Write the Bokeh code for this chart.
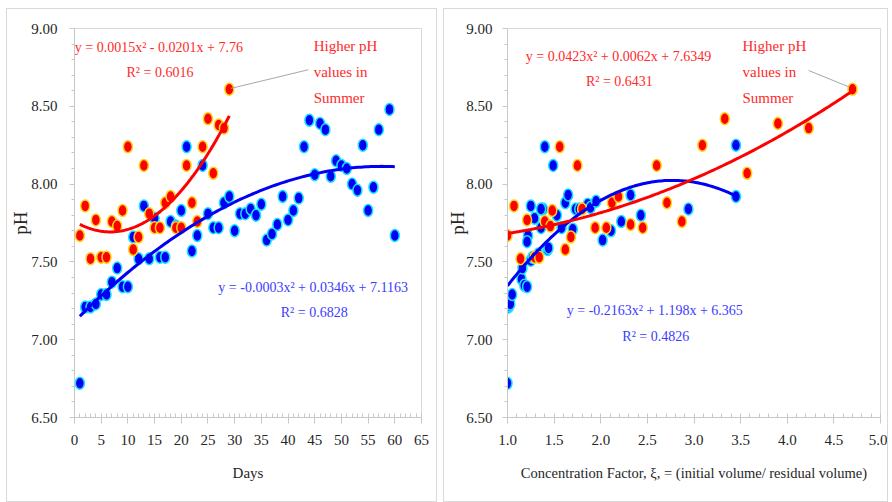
import numpy as np
from bokeh.plotting import figure
from bokeh.layouts import row
from bokeh.models import Label, FixedTicker, NumeralTickFormatter
from bokeh.embed import file_html
from bokeh.resources import INLINE

# ---- pH versus days ----
red_days = list(range(1, 30))
red_ph_days = [7.67, 7.86, 7.52, 7.77, 7.53, 7.53, 7.76, 7.73, 7.83, 8.24,
               7.58, 7.66, 8.12, 7.81, 7.72, 7.72, 7.88, 7.92, 7.72, 7.72,
               8.12, 7.88, 7.76, 8.24, 8.42, 8.07, 8.38, 8.36, 8.61]

blue_days = list(range(1, 58)) + [59, 60]
blue_ph_days = [6.72, 7.21, 7.21, 7.23, 7.29, 7.29, 7.37, 7.46, 7.34, 7.34,
                7.66, 7.52, 7.86, 7.52, 7.78, 7.53, 7.53, 7.76, 7.73, 7.83,
                8.24, 7.57, 7.67, 8.12, 7.81, 7.72, 7.72, 7.88, 7.92, 7.70,
                7.81, 7.81, 7.84, 7.80, 7.87, 7.64, 7.68, 7.74, 7.92, 7.77,
                7.83, 7.91, 8.24, 8.41, 8.06, 8.39, 8.35, 8.05, 8.15, 8.12,
                8.10, 8.00, 7.96, 8.25, 7.83, 7.98, 8.35, 8.48, 7.67]

# ---- pH versus concentration factor ----
red_cf = [1.00, 1.07, 1.14, 1.21, 1.29, 1.34, 1.40, 1.46, 1.48, 1.56,
          1.62, 1.68, 1.75, 1.80, 1.94, 2.06, 2.12, 2.19, 2.32, 2.45,
          2.60, 2.71, 2.87, 3.09, 3.33, 3.57, 3.90, 4.23, 4.70]
red_ph_cf = [7.67, 7.86, 7.52, 7.77, 7.53, 7.53, 7.76, 7.73, 7.83, 8.24,
             7.58, 7.66, 8.12, 7.84, 7.72, 7.72, 7.88, 7.92, 7.74, 7.72,
             8.12, 7.88, 7.76, 8.25, 8.42, 8.07, 8.39, 8.36, 8.61]

blue_cf = [1.00, 1.01, 1.02, 1.03, 1.05, 1.15, 1.16, 1.18, 1.21, 1.22,
           1.21, 1.25, 1.25, 1.27, 1.29, 1.33, 1.36, 1.38, 1.36, 1.40,
           1.43, 1.44, 1.49, 1.53, 1.58, 1.62, 1.65, 1.70, 1.73, 1.77,
           1.86, 1.89, 1.95, 2.02, 2.11, 2.22, 2.32, 2.43, 2.94, 3.45, 3.45]
blue_ph_cf = [6.72, 7.21, 7.22, 7.23, 7.29, 7.39, 7.46, 7.35, 7.34, 7.67,
              7.63, 7.51, 7.86, 7.53, 7.78, 7.55, 7.72, 7.84, 7.84, 8.24,
              7.58, 7.59, 8.12, 7.80, 7.72, 7.88, 7.93, 7.71, 7.84, 7.84,
              7.87, 7.85, 7.89, 7.64, 7.70, 7.76, 7.93, 7.80, 7.84, 7.92, 8.25]

# quadratic trendline coefficients (a, b, c) and R²
red_fit_days = (0.0015, -0.0201, 7.76, 0.6016)
blue_fit_days = (-0.0003, 0.0346, 7.1163, 0.6828)
red_fit_cf = (0.0423, 0.0062, 7.6349, 0.6431)
blue_fit_cf = (-0.2163, 1.198, 6.365, 0.4826)

y_ticks = [6.5, 7.0, 7.5, 8.0, 8.5, 9.0]

FONT = "Liberation Serif"
RED = "#ff0000"
BLUE = "#0000f5"
RED_TXT = "#ff2a2a"
BLUE_TXT = "#3c3cff"
GRID_GRAY = "#c8c8c8"


def make_fig(width, x_range, x_ticks, x_minor, x_fmt, x_title, min_left, min_right,
             label_standoff, title_standoff):
    p = figure(width=width, height=494, x_range=x_range, y_range=(6.5, 9.0),
               output_backend="svg", toolbar_location=None,
               min_border_left=min_left, min_border_right=min_right,
               min_border_top=19, min_border_bottom=86,
               background_fill_color="white", border_fill_color="white")
    p.xgrid.visible = False
    p.ygrid.visible = False
    p.outline_line_color = "#d9d9d9"
    p.outline_line_width = 1

    p.xaxis.ticker = FixedTicker(ticks=x_ticks, minor_ticks=x_minor)
    p.xaxis.formatter = NumeralTickFormatter(format=x_fmt)
    p.yaxis.ticker = FixedTicker(ticks=y_ticks,
                                 minor_ticks=[round(6.5 + 0.1 * i, 2) for i in range(26)])
    p.yaxis.formatter = NumeralTickFormatter(format="0.00")

    for ax in (p.xaxis[0], p.yaxis[0]):
        ax.axis_line_color = GRID_GRAY
        ax.major_tick_line_color = GRID_GRAY
        ax.minor_tick_line_color = GRID_GRAY
        ax.major_label_text_font = FONT
        ax.major_label_text_font_size = "15px"
        ax.major_label_text_color = "#262626"
        ax.axis_label_text_font = FONT
        ax.axis_label_text_font_style = "normal"
        ax.axis_label_text_color = "#262626"

    p.xaxis.major_tick_out = 6
    p.xaxis.major_tick_in = 0
    p.xaxis.minor_tick_in = 4
    p.xaxis.minor_tick_out = 0
    p.xaxis.major_label_standoff = 11
    p.xaxis.axis_label = x_title
    p.xaxis.axis_label_standoff = 17
    p.xaxis.axis_label_text_font_size = "15px"

    p.yaxis.major_tick_out = 5
    p.yaxis.major_tick_in = 0
    p.yaxis.minor_tick_out = 3
    p.yaxis.minor_tick_in = 0
    p.yaxis.major_label_standoff = label_standoff
    p.yaxis.axis_label = "pH"
    p.yaxis.axis_label_standoff = title_standoff
    p.yaxis.axis_label_text_font_size = "19px"
    return p


def add_points(p, xs, ys, fill, line):
    p.ellipse(x=xs, y=ys, width=9, height=12, width_units="screen",
              height_units="screen", fill_color=fill, line_color=line, line_width=1.5)


def add_trend(p, fit, x0, x1, color):
    a, b, c, _ = fit
    xs = np.linspace(x0, x1, 120)
    p.line(xs, a * xs ** 2 + b * xs + c, line_color=color, line_width=3)


def eq_text(fit):
    a, b, c, r2 = fit

    def term(v, s):
        return (" + " if v >= 0 else " - ") + f"{abs(v):g}{s}"
    return f"y = {a:g}x²" + term(b, "x") + term(c, ""), f"R² = {r2:g}"


def add_text(p, x, y, text, color, size="14px", align="center"):
    p.add_layout(Label(x=x, y=y, text=text, text_color=color, text_font=FONT,
                       text_font_size=size, text_align=align,
                       text_baseline="middle"))


# ---- left panel: days ----
p1 = make_fig(431, (0, 65), list(range(0, 66, 5)), list(range(0, 66)), "0",
              "Days", 65, 17, 12, -3)
add_points(p1, blue_days, blue_ph_days, BLUE, "#17e3ff")
add_points(p1, red_days, red_ph_days, RED, "#ffd21a")
add_trend(p1, blue_fit_days, 1, 60, BLUE)
add_trend(p1, red_fit_days, 1, 29, RED)

eq, r2 = eq_text(red_fit_days)
add_text(p1, 15.8, 8.88, eq, RED_TXT)
add_text(p1, 16.0, 8.72, r2, RED_TXT)
eq, r2 = eq_text(blue_fit_days)
add_text(p1, 44.7, 7.335, eq, BLUE_TXT)
add_text(p1, 44.9, 7.175, r2, BLUE_TXT)
for yy, t in zip([8.886, 8.72, 8.553], ["Higher pH", "values in", "Summer"]):
    add_text(p1, 44.8, yy, t, RED_TXT, size="15px", align="left")
p1.line([29.3, 43.8], [8.615, 8.735], line_color="#a6a6a6", line_width=1)

# ---- right panel: concentration factor ----
p2 = make_fig(445, (1.0, 5.0), [1.0, 1.5, 2.0, 2.5, 3.0, 3.5, 4.0, 4.5, 5.0],
              [round(1.0 + 0.1 * i, 2) for i in range(41)], "0.0",
              "Concentration Factor, ξ, = (initial volume/ residual volume)", 55, 9,
              10, -5)
p2.xaxis.axis_label_text_font_size = "14.5px"
add_points(p2, blue_cf, blue_ph_cf, BLUE, "#17e3ff")
add_points(p2, red_cf, red_ph_cf, RED, "#ffd21a")
add_trend(p2, blue_fit_cf, 1.0, 3.45, BLUE)
add_trend(p2, red_fit_cf, 1.0, 4.7, RED)

eq, r2 = eq_text(red_fit_cf)
add_text(p2, 2.19, 8.82, eq, RED_TXT)
add_text(p2, 2.20, 8.66, r2, RED_TXT)
eq, r2 = eq_text(blue_fit_cf)
add_text(p2, 2.58, 7.19, eq, BLUE_TXT)
add_text(p2, 2.59, 7.02, r2, BLUE_TXT)
for yy, t in zip([8.886, 8.72, 8.553], ["Higher pH", "values in", "Summer"]):
    add_text(p2, 3.52, yy, t, RED_TXT, size="15px", align="left")
p2.line([4.23, 4.66], [8.73, 8.625], line_color="#a6a6a6", line_width=1)

p1.styles = {"border": "1px solid #d9d9d9"}
p2.styles = {"border": "1px solid #d9d9d9"}
p1.margin = (8, 0, 0, 6)
p2.margin = (8, 0, 0, 6)

layout = row(p1, p2)
open("out.html", "w").write(file_html(layout, INLINE))
